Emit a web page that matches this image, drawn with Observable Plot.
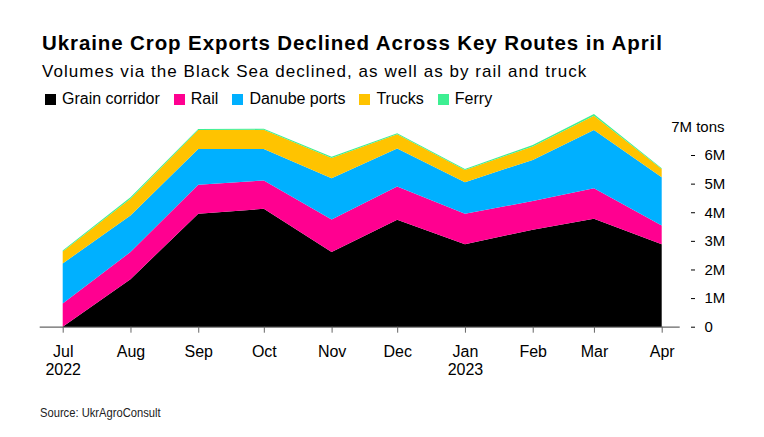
<!DOCTYPE html>
<html><head><meta charset="utf-8">
<script src="https://cdn.jsdelivr.net/npm/d3@7"></script>
<script src="https://cdn.jsdelivr.net/npm/@observablehq/plot@0.6"></script>
<style>
body{margin:0;background:#fff;font-family:"Liberation Sans",Arial,sans-serif;color:#000;}
#wrap{position:relative;width:764px;height:437px;overflow:hidden;}
.title{position:absolute;left:42px;top:31px;font-size:20.5px;letter-spacing:0.9px;font-weight:bold;line-height:24px;white-space:nowrap;}
.subtitle{position:absolute;left:42px;top:61px;font-size:17px;letter-spacing:1.05px;line-height:22px;white-space:nowrap;}
.legend{position:absolute;left:45px;top:89px;font-size:16px;line-height:20px;display:flex;white-space:nowrap;}
.item{display:flex;align-items:center;margin-right:14px}
.sw{width:11px;height:11px;margin-right:6px}
#chart{position:absolute;left:0;top:110px;}
.source{position:absolute;left:40px;top:405px;font-size:13px;line-height:16px;color:#222;transform:scaleX(0.86);transform-origin:left top;white-space:nowrap;}
</style></head>
<body>
<div id="wrap">
  <div class="title">Ukraine Crop Exports Declined Across Key Routes in April</div>
  <div class="subtitle">Volumes via the Black Sea declined, as well as by rail and truck</div>
  <div class="legend" id="legend"></div>
  <div id="chart"></div>
  <div class="source">Source: UkrAgroConsult</div>
</div>
<script>
const months = ["2022-07-01","2022-08-01","2022-09-01","2022-10-01","2022-11-01","2022-12-01","2023-01-01","2023-02-01","2023-03-01","2023-04-01"];
const seriesNames = ["Grain corridor","Rail","Danube ports","Trucks","Ferry"];
const seriesColors = ["#000000","#ff0090","#00b0ff","#ffc300","#3def92"];
// million tons
const grain  = [0.00, 1.66, 3.95, 4.12, 2.61, 3.74, 2.88, 3.39, 3.77, 2.88];
const rail   = [0.81, 0.95, 1.01, 0.99, 1.14, 1.16, 1.07, 1.00, 1.07, 0.66];
const danube = [1.40, 1.28, 1.25, 1.10, 1.44, 1.33, 1.10, 1.44, 2.03, 1.68];
const trucks = [0.42, 0.58, 0.66, 0.67, 0.71, 0.50, 0.43, 0.47, 0.50, 0.29];
const ferry  = [0.03, 0.05, 0.04, 0.04, 0.04, 0.03, 0.03, 0.05, 0.06, 0.03];
const yTicks = [0, 1e6, 2e6, 3e6, 4e6, 5e6, 6e6];

const seriesValues = [grain, rail, danube, trucks, ferry];
const dates = months.map(d => new Date(d + "T00:00:00Z"));
const data = [];
seriesNames.forEach((s, i) => {
  dates.forEach((d, j) => data.push({date: d, series: s, value: seriesValues[i][j] * 1e6}));
});

const legend = document.getElementById("legend");
seriesNames.forEach((s, i) => {
  const it = document.createElement("div");
  it.className = "item";
  it.innerHTML = `<span class="sw" style="background:${seriesColors[i]}"></span><span>${s}</span>`;
  legend.appendChild(it);
});

const monthFmt = d3.utcFormat("%b");
const chart = Plot.plot({
  width: 764,
  height: 280,
  marginLeft: 62.7,
  marginRight: 102.3,
  marginTop: 16.4,
  marginBottom: 63.3,
  style: {fontFamily: "'Liberation Sans', Arial, sans-serif", background: "#fff", color: "#000"},
  x: {type: "utc", domain: [dates[0], dates[dates.length - 1]]},
  y: {domain: [0, 7e6]},
  color: {domain: seriesNames, range: seriesColors},
  marks: [
    Plot.ruleY([0], {stroke: "#666", strokeWidth: 1.2, insetLeft: -23, insetRight: -18}),
    Plot.areaY(data, {x: "date", y: "value", fill: "series", order: seriesNames}),
    Plot.axisX({
      ticks: dates,
      tickSize: 6,
      tickPadding: 10.6,
      stroke: "#666",
      fontSize: 16,
      lineHeight: 1.15,
      tickFormat: d => monthFmt(d) + ((d.getUTCMonth() === 6 || d.getUTCMonth() === 0) ? "\n" + d.getUTCFullYear() : ""),
      label: null
    }),
    Plot.axisY({
      anchor: "right",
      ticks: yTicks,
      dx: 28.3,
      tickSize: 4,
      tickPadding: 10,
      fontSize: 15,
      tickFormat: d => d === 0 ? "0" : (d / 1e6) + "M",
      label: null
    }),
    Plot.text([7e6], {y: d => d, text: () => "7M tons", frameAnchor: "right", textAnchor: "start", dx: 9, fontSize: 15})
  ]
});
document.getElementById("chart").appendChild(chart);
</script>
</body></html>
